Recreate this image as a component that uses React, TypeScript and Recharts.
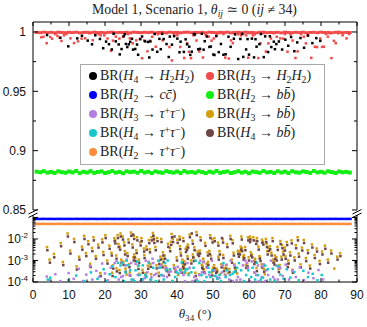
import { Scatter, ScatterChart, XAxis, YAxis } from "recharts"

// theta_34 grid used by the dense bands (degrees)
const bandTheta = [
  1, 2, 3, 4, 5, 6, 7, 8, 9, 10, 11, 12, 13, 14, 15, 16, 17, 18, 19, 20, 21, 22,
  23, 24, 25, 26, 27, 28, 29, 30, 31, 32, 33, 34, 35, 36, 37, 38, 39, 40, 41, 42, 43, 44,
  45, 46, 47, 48, 49, 50, 51, 52, 53, 54, 55, 56, 57, 58, 59, 60, 61, 62, 63, 64, 65, 66,
  67, 68, 69, 70, 71, 72, 73, 74, 75, 76, 77, 78, 79, 80, 81, 82, 83, 84, 85, 86, 87, 88,
]

// BR(H2 -> b bbar) band
const h2bbBR = [
  0.8823, 0.8818, 0.8827, 0.8815, 0.8821, 0.8812, 0.8826, 0.8819, 0.8814, 0.8824,
  0.8817, 0.8829, 0.8811, 0.8822, 0.8816, 0.8827, 0.8813, 0.882, 0.8825, 0.8812,
  0.8818, 0.8828, 0.8815, 0.8821, 0.881, 0.8826, 0.8819, 0.8823, 0.8814, 0.8829,
  0.8816, 0.8822, 0.8811, 0.8825, 0.8818, 0.8813, 0.8827, 0.882, 0.8815, 0.8824,
  0.8812, 0.8828, 0.8817, 0.8821, 0.8814, 0.8826, 0.8819, 0.8811, 0.8823, 0.8816,
  0.8829, 0.8813, 0.882, 0.8825, 0.8812, 0.8818, 0.8827, 0.8815, 0.8822, 0.881,
  0.8824, 0.8819, 0.8814, 0.8828, 0.8817, 0.8821, 0.8812, 0.8826, 0.8816, 0.8823,
  0.8811, 0.8827, 0.8818, 0.8815, 0.8825, 0.882, 0.8813, 0.8829, 0.8817, 0.8822,
  0.8814, 0.8826, 0.8819, 0.8812, 0.8824, 0.8818, 0.8821, 0.8816,
]

// BR(H2 -> c cbar) band
const h2ccBR = [
  0.0856, 0.0852, 0.0859, 0.0854, 0.0857, 0.0851, 0.0858, 0.0853, 0.0856, 0.0855,
  0.0852, 0.0859, 0.0854, 0.0857, 0.0853, 0.0858, 0.0855, 0.0851, 0.0857, 0.0854,
  0.0859, 0.0852, 0.0856, 0.0853, 0.0858, 0.0855, 0.0851, 0.0857, 0.0854, 0.0859,
  0.0852, 0.0856, 0.0853, 0.0858, 0.0855, 0.0852, 0.0857, 0.0854, 0.0859, 0.0853,
  0.0856, 0.0851, 0.0858, 0.0855, 0.0852, 0.0857, 0.0854, 0.0859, 0.0853, 0.0856,
  0.0852, 0.0858, 0.0855, 0.0851, 0.0857, 0.0854, 0.0859, 0.0853, 0.0856, 0.0852,
  0.0858, 0.0855, 0.0853, 0.0857, 0.0854, 0.0859, 0.0852, 0.0856, 0.0853, 0.0858,
  0.0855, 0.0851, 0.0857, 0.0854, 0.0859, 0.0853, 0.0856, 0.0852, 0.0858, 0.0855,
  0.0853, 0.0857, 0.0854, 0.0859, 0.0852, 0.0856, 0.0853, 0.0858,
]

// BR(H2 -> tau+ tau-) band
const h2tautauBR = [
  0.0502, 0.0499, 0.0504, 0.05, 0.0503, 0.0498, 0.0505, 0.0501, 0.0499, 0.0503,
  0.05, 0.0504, 0.0498, 0.0502, 0.0501, 0.0505, 0.0499, 0.0503, 0.05, 0.0502,
  0.0498, 0.0504, 0.0501, 0.0499, 0.0503, 0.05, 0.0505, 0.0498, 0.0502, 0.0501,
  0.0504, 0.0499, 0.0503, 0.05, 0.0502, 0.0498, 0.0505, 0.0501, 0.0499, 0.0503,
  0.05, 0.0504, 0.0498, 0.0502, 0.0501, 0.0503, 0.0499, 0.0505, 0.05, 0.0502,
  0.0498, 0.0504, 0.0501, 0.0499, 0.0503, 0.05, 0.0502, 0.0498, 0.0505, 0.0501,
  0.0499, 0.0503, 0.05, 0.0504, 0.0498, 0.0502, 0.0501, 0.0503, 0.0499, 0.0505,
  0.05, 0.0502, 0.0498, 0.0504, 0.0501, 0.0499, 0.0503, 0.05, 0.0502, 0.0498,
  0.0504, 0.0501, 0.0499, 0.0503, 0.05, 0.0502, 0.0499, 0.0501,
]

// BR(H3 -> H2 H2): the band sitting at 1
const h3h2h2Band = [
  0.9996, 0.9994, 0.9998, 0.9995, 0.9997, 0.9993, 0.9998, 0.9996, 0.9994, 0.9997,
  0.9995, 0.9998, 0.9993, 0.9996, 0.9997, 0.9994, 0.9998, 0.9995, 0.9996, 0.9993,
  0.9997, 0.9998, 0.9994, 0.9996, 0.9995, 0.9997, 0.9993, 0.9998, 0.9996, 0.9994,
  0.9997, 0.9995, 0.9998, 0.9993, 0.9996, 0.9997, 0.9994, 0.9998, 0.9995, 0.9996,
  0.9993, 0.9997, 0.9998, 0.9994, 0.9996, 0.9995, 0.9997, 0.9993, 0.9998, 0.9996,
  0.9994, 0.9997, 0.9995, 0.9998, 0.9993, 0.9996, 0.9997, 0.9994, 0.9998, 0.9995,
  0.9996, 0.9993, 0.9997, 0.9998, 0.9994, 0.9996, 0.9995, 0.9997, 0.9993, 0.9998,
  0.9996, 0.9994, 0.9997, 0.9995, 0.9998, 0.9993, 0.9996, 0.9997, 0.9994, 0.9998,
  0.9995, 0.9996, 0.9993, 0.9997, 0.9998, 0.9994, 0.9996, 0.9995,
]

// BR(H3 -> H2 H2): points below the band  [theta34, BR]
const h3h2h2Scatter = [
  [2.3,0.9955],[2.9,0.996],[3.8,0.9905],[4.8,0.9958],[5.3,0.9943],[6.2,0.9982],[6.8,0.9967],[7.4,0.9951],
  [7.9,0.9924],[8.6,0.9972],[9.3,0.9983],[10.4,0.9946],[11.4,0.9906],[12.5,0.9921],[13.5,0.9944],[14.5,0.9947],
  [15.6,0.999],[16.6,0.993],[17.2,0.9989],[18.2,0.9981],[18.8,0.9972],[19.8,0.9971],[20.7,0.9945],[21.7,0.9842],
  [22.2,0.9927],[23.0,0.9961],[24.0,0.9944],[25.0,0.9959],[25.8,0.999],[26.4,0.9982],[26.9,0.9946],[27.7,0.9904],
  [28.7,0.9929],[29.7,0.9943],[30.3,0.9779],[30.9,0.9928],[31.8,0.9837],[32.5,0.9926],[33.1,0.996],[34.1,0.9876],
  [34.7,0.9981],[35.5,0.9989],[36.0,0.9929],[37.1,0.999],[37.9,0.9873],[38.6,0.976],[39.2,0.9972],[40.1,0.9973],
  [40.9,0.9874],[42.0,0.9781],[42.8,0.9906],[43.3,0.9833],[43.9,0.9779],[44.6,0.9971],[45.4,0.9928],[46.2,0.9836],
  [47.2,0.9785],[48.0,0.9973],[48.8,0.9961],[49.6,0.9927],[50.2,0.9945],[51.0,0.9972],[51.8,0.999],[52.9,0.9983],
  [53.4,0.9784],[54.4,0.9776],[55.0,0.9929],[55.5,0.9906],[56.2,0.9982],[57.0,0.9981],[57.8,0.9971],[58.4,0.9983],
  [59.2,0.9972],[59.8,0.9783],[60.4,0.999],[61.1,0.9971],[61.6,0.9981],[62.6,0.978],[63.2,0.9905],[64.0,0.9989],
  [64.7,0.9835],[65.4,0.9904],[66.1,0.9945],[66.8,0.999],[67.7,0.996],[68.7,0.9946],[69.5,0.9944],[70.0,0.9982],
  [70.7,0.9834],[71.5,0.9981],[72.1,0.9928],[72.9,0.9781],[73.5,0.9836],[74.5,0.9982],[75.2,0.996],[75.8,0.9904],
  [76.3,0.9972],[77.3,0.9782],[78.3,0.9875],[78.9,0.9873],[79.8,0.9945],[80.3,0.9874],[80.8,0.9876],[81.4,0.9983],
  [81.9,0.9961],[82.4,0.999],[82.9,0.978],[83.6,0.9925],[84.1,0.9905],[84.8,0.9989],[86.0,0.9972],[87.1,0.9946],
  [87.8,0.9983],
]

// BR(H4 -> H2 H2)
const h4h2h2Pts = [
  [3.9,0.9974],[7.6,0.9951],[9.8,0.9879],[12.3,0.9946],[13.6,0.9968],[15.2,0.9927],[16.4,0.9896],[17.3,0.9972],
  [18.6,0.9941],[19.5,0.9863],[20.3,0.9919],[21.1,0.9897],[21.9,0.9853],[22.4,0.9985],[23.0,0.9921],[23.8,0.9895],
  [24.1,0.9811],[24.6,0.9856],[25.2,0.9964],[25.5,0.9981],[25.8,0.9899],[26.2,0.9873],[26.6,0.9896],[27.0,0.9917],
  [27.5,0.9943],[27.8,0.9851],[28.4,0.9857],[28.9,0.9894],[29.2,0.9808],[29.8,0.9939],[30.3,0.9962],[31.1,0.9921],
  [31.9,0.9916],[32.3,0.9785],[32.6,0.992],[33.2,0.9852],[33.8,0.9983],[34.5,0.9833],[35.1,0.9942],[35.5,0.9855],
  [35.9,0.9984],[36.3,0.994],[37.1,0.9898],[37.7,0.9789],[38.0,0.9961],[38.6,0.9893],[39.2,0.9965],[40.1,0.9944],
  [40.7,0.9829],[41.0,0.9918],[41.9,0.9832],[42.4,0.9938],[42.8,0.9896],[43.4,0.9876],[43.7,0.9807],[44.1,0.9834],
  [44.7,0.9982],[45.0,0.9979],[45.9,0.9854],[46.4,0.9858],[46.9,0.9985],[47.4,0.9851],[47.7,0.9922],[48.3,0.9962],
  [49.0,0.9874],[49.4,0.9877],[50.1,0.981],[50.4,0.9806],[50.9,0.9965],[51.6,0.983],[52.2,0.9899],[52.9,0.9808],
  [53.5,0.9812],[54.3,0.996],[54.9,0.9875],[55.8,0.9943],[56.1,0.998],[57.0,0.9772],[57.6,0.9941],[58.1,0.9984],
  [58.4,0.979],[59.2,0.9853],[59.6,0.994],[60.0,0.9809],[60.8,0.9944],[61.4,0.9786],[61.8,0.9939],[62.1,0.9876],
  [62.9,0.9897],[63.3,0.9983],[64.1,0.9788],[64.5,0.9963],[65.3,0.9831],[65.8,0.9964],[66.2,0.9873],[66.9,0.9918],
  [67.2,0.9855],[67.6,0.9898],[68.3,0.992],[69.2,0.9852],[70.1,0.9935],[70.9,0.9884],[71.7,0.9958],[72.6,0.9838],
  [73.4,0.9912],[74.3,0.9949],[75.3,0.9867],[76.4,0.997],[77.6,0.9906],[78.7,0.9948],[79.8,0.9925],
]

// BR(H3 -> b bbar)
const h3bbPts = [
  [3.9,4.2e-3],[4.6,1.1e-3],[5.8,2.0e-3],[7.7,6.4e-3],[8.3,8.5e-4],[9.6,1.8e-2],[10.3,2.9e-3],[11.4,1.0e-2],
  [12.1,5.3e-4],[12.8,1.5e-3],[13.6,4.4e-3],[14.2,1.4e-2],[14.7,2.2e-3],[15.3,7.9e-3],[15.9,7.0e-4],[16.4,3.8e-3],
  [16.8,1.2e-2],[17.4,1.6e-3],[18.1,5.5e-3],[18.7,2.6e-4],[19.2,9.6e-3],[19.5,2.5e-3],[20.1,1.5e-2],[20.6,1.0e-3],
  [21.2,4.9e-3],[21.8,2.3e-3],[22.0,2.7e-4],[22.2,5.9e-4],[22.6,1.1e-2],[22.8,8.6e-3],[23.1,1.7e-3],[23.2,4.3e-4],
  [23.5,1.5e-2],[23.7,5.9e-3],[24.0,3.6e-4],[24.1,4.4e-3],[24.3,1.8e-2],[24.5,1.1e-3],[24.9,1.3e-2],[25.1,8.8e-4],
  [25.3,7.0e-3],[25.5,2.7e-3],[25.7,4.2e-4],[26.0,2.2e-4],[26.2,2.2e-3],[26.5,9.5e-3],[26.7,6.8e-4],[26.9,2.8e-4],
  [27.2,2.0e-2],[27.6,5.6e-3],[27.9,1.4e-3],[28.0,1.4e-2],[28.1,1.9e-3],[28.4,1.3e-3],[28.7,3.0e-3],[28.9,1.2e-2],
  [29.2,5.6e-4],[29.4,1.1e-3],[29.5,2.4e-4],[29.8,6.9e-3],[30.1,1.1e-2],[30.4,3.7e-4],[30.8,3.6e-3],[30.9,1.8e-3],
  [31.3,2.6e-4],[31.5,4.5e-3],[31.9,5.7e-4],[32.2,8.9e-3],[32.4,3.3e-3],[32.6,7.1e-4],[32.8,2.3e-4],[32.9,1.2e-2],
  [33.3,1.9e-2],[33.5,1.4e-2],[33.6,9.0e-3],[34.0,4.2e-3],[34.3,6.0e-4],[34.5,1.1e-2],[34.9,2.7e-4],[35.0,9.4e-4],
  [35.4,1.5e-3],[35.6,1.0e-2],[35.9,6.6e-4],[36.1,2.4e-3],[36.2,1.2e-3],[36.6,1.7e-3],[36.8,5.4e-4],[37.1,4.4e-4],
  [37.3,3.5e-4],[37.5,6.0e-3],[37.7,2.9e-4],[38.0,3.8e-3],[38.3,7.4e-3],[38.5,1.7e-2],[38.8,1.0e-2],[39.1,6.1e-4],
  [39.5,4.1e-4],[39.9,1.4e-3],[40.1,9.2e-3],[40.3,2.1e-4],[40.7,1.3e-2],[40.8,4.7e-3],[41.0,2.3e-3],[41.3,3.8e-4],
  [41.5,1.1e-3],[41.6,6.9e-4],[41.7,1.1e-2],[41.9,5.8e-4],[42.1,9.1e-4],[42.3,2.6e-4],[42.4,3.5e-3],[42.7,4.3e-3],
  [42.9,1.6e-3],[43.0,5.5e-3],[43.3,2.5e-4],[43.5,1.6e-2],[43.9,1.0e-3],[44.3,8.4e-3],[44.4,1.9e-3],[44.6,1.3e-3],
  [44.8,4.1e-3],[45.1,2.7e-4],[45.4,2.1e-2],[45.7,2.6e-3],[46.0,2.2e-3],[46.1,2.3e-4],[46.3,2.9e-3],[46.5,1.2e-2],
  [46.9,6.4e-4],[47.1,5.5e-4],[47.3,1.2e-3],[47.5,3.9e-4],[47.8,6.6e-3],[48.2,7.0e-4],[48.5,2.4e-3],[48.6,8.7e-4],
  [49.0,2.8e-3],[49.2,1.5e-2],[49.4,1.7e-3],[49.7,2.8e-4],[49.8,9.6e-3],[50.0,4.6e-4],[50.3,6.0e-4],[50.4,1.1e-2],
  [50.8,3.6e-4],[51.0,4.2e-4],[51.2,3.4e-4],[51.4,6.8e-3],[51.5,1.5e-3],[51.8,2.7e-3],[52.1,2.4e-4],[52.3,6.7e-4],
  [52.7,9.4e-3],[52.8,1.8e-3],[53.0,4.4e-4],[53.3,2.2e-4],[53.6,5.9e-4],[53.9,5.8e-3],[54.2,2.6e-4],[54.5,4.0e-4],
  [54.8,1.4e-2],[55.2,1.1e-3],[55.4,8.8e-3],[55.7,2.3e-3],[56.0,6.5e-4],[56.2,4.3e-4],[56.3,3.7e-4],[56.7,2.5e-4],
  [56.9,2.8e-3],[57.1,2.1e-3],[57.4,2.6e-3],[57.7,4.4e-3],[57.9,1.3e-2],[58.0,3.7e-3],[58.4,1.5e-3],[58.6,1.8e-3],
  [58.9,4.2e-3],[59.1,6.2e-4],[59.5,7.3e-4],[59.7,1.2e-2],[59.9,1.4e-3],[60.2,9.9e-3],[60.3,1.3e-2],[60.5,2.4e-3],
  [60.8,1.9e-3],[61.2,1.2e-2],[61.4,9.5e-4],[61.5,2.7e-4],[61.7,1.2e-3],[61.9,8.2e-3],[62.1,4.5e-4],[62.2,1.1e-2],
  [62.6,4.4e-3],[62.9,1.6e-3],[63.1,1.3e-3],[63.5,6.6e-4],[63.6,9.3e-3],[63.9,7.6e-3],[64.1,4.1e-4],[64.4,2.3e-4],
  [64.7,1.0e-2],[64.9,5.9e-3],[65.1,2.7e-3],[65.4,3.9e-3],[65.8,4.6e-3],[66.2,2.3e-3],[66.5,1.1e-2],[66.7,1.1e-3],
  [67.0,8.9e-4],[67.2,1.7e-3],[67.6,1.4e-3],[67.9,4.3e-3],[68.2,4.0e-4],[68.5,6.1e-4],[68.7,8.0e-3],[69.0,1.5e-3],
  [69.2,5.2e-3],[69.5,2.6e-3],[69.9,4.0e-3],[70.1,1.6e-3],[70.5,7.2e-3],[70.7,6.8e-4],[70.9,1.0e-3],[71.4,2.4e-3],
  [71.8,8.6e-3],[72.1,3.7e-4],[72.6,1.4e-3],[73.0,5.1e-3],[73.5,1.2e-2],[73.8,2.1e-3],[74.3,6.6e-4],[74.7,4.0e-3],
  [75.2,9.0e-3],[75.8,1.3e-3],[76.3,3.0e-3],[76.9,5.8e-4],[77.5,5.6e-3],[78.2,1.8e-3],[78.8,3.6e-3],[79.6,9.5e-4],
  [80.3,2.6e-3],[81.1,4.9e-3],[81.9,1.1e-3],[82.8,2.9e-3],[83.7,4.2e-4],[84.5,1.5e-3],[85.3,2.2e-3],
]

// BR(H4 -> b bbar)
const h4bbPts = [
  [4.0,3.0e-3],[4.7,7.9e-4],[5.9,1.4e-3],[7.8,4.6e-3],[8.4,6.1e-4],[9.7,1.3e-2],[10.4,2.1e-3],[11.5,7.2e-3],
  [12.2,3.8e-4],[12.9,1.1e-3],[13.7,3.2e-3],[14.3,1.0e-2],[14.8,1.6e-3],[15.4,5.7e-3],[16.0,5.0e-4],[16.5,2.7e-3],
  [16.9,8.6e-3],[17.5,1.2e-3],[18.2,4.0e-3],[18.8,1.9e-4],[19.3,6.9e-3],[19.6,1.8e-3],[20.2,1.1e-2],[20.7,7.2e-4],
  [21.3,3.5e-3],[21.9,1.7e-3],[22.1,1.9e-4],[22.3,4.2e-4],[22.7,7.9e-3],[22.9,6.2e-3],[23.2,1.2e-3],[23.3,3.1e-4],
  [23.6,1.1e-2],[23.8,4.2e-3],[24.1,2.6e-4],[24.2,3.2e-3],[24.4,1.3e-2],[24.6,7.9e-4],[25.0,9.4e-3],[25.2,6.3e-4],
  [25.4,5.0e-3],[25.6,1.9e-3],[25.8,3.0e-4],[26.3,1.6e-3],[26.6,6.8e-3],[26.8,4.9e-4],[27.0,2.0e-4],[27.3,1.4e-2],
  [27.7,4.0e-3],[27.8,1.6e-2],[28.0,1.0e-3],[28.1,1.0e-2],[28.2,1.4e-3],[28.5,9.4e-4],[28.8,2.2e-3],[29.0,8.6e-3],
  [29.3,4.0e-4],[29.5,7.9e-4],[29.9,5.0e-3],[30.2,7.9e-3],[30.5,2.7e-4],[30.9,2.6e-3],[31.0,1.3e-3],[31.4,1.9e-4],
  [31.6,3.2e-3],[32.0,4.1e-4],[32.3,6.4e-3],[32.5,2.4e-3],[32.7,5.1e-4],[33.0,8.6e-3],[33.4,1.4e-2],[33.6,1.0e-2],
  [33.7,6.5e-3],[34.1,3.0e-3],[34.4,4.3e-4],[34.6,7.9e-3],[35.0,1.9e-4],[35.1,6.8e-4],[35.5,1.1e-3],[35.7,7.2e-3],
  [36.0,4.8e-4],[36.2,1.7e-3],[36.3,8.6e-4],[36.7,1.2e-3],[36.9,3.9e-4],[37.2,3.2e-4],[37.6,4.3e-3],[37.8,2.1e-4],
  [38.1,2.7e-3],[38.4,5.3e-3],[38.6,1.2e-2],[38.9,7.2e-3],[39.2,4.4e-4],[39.3,1.3e-2],[39.6,3.0e-4],[40.0,1.0e-3],
  [40.2,6.6e-3],[40.8,9.4e-3],[40.9,3.4e-3],[41.1,1.7e-3],[41.4,2.7e-4],[41.6,7.9e-4],[41.7,5.0e-4],[41.8,7.9e-3],
  [42.0,4.2e-4],[42.2,6.6e-4],[42.5,2.5e-3],[42.8,3.1e-3],[43.0,1.2e-3],[43.1,4.0e-3],[43.6,1.2e-2],[44.0,7.2e-4],
  [44.1,1.8e-2],[44.4,6.0e-3],[44.5,1.4e-3],[44.7,9.4e-4],[44.9,3.0e-3],[45.2,1.9e-4],[45.5,1.5e-2],[45.8,1.9e-3],
  [46.1,1.6e-3],[46.4,2.1e-3],[46.6,8.6e-3],[47.0,4.6e-4],[47.2,4.0e-4],[47.4,8.6e-4],[47.6,2.8e-4],[47.9,4.8e-3],
  [48.3,5.0e-4],[48.6,1.7e-3],[48.7,6.3e-4],[49.1,2.0e-3],[49.3,1.1e-2],[49.5,1.2e-3],[49.8,2.0e-4],[49.9,6.9e-3],
  [50.1,3.3e-4],[50.4,4.3e-4],[50.5,7.9e-3],[50.9,2.6e-4],[51.1,3.0e-4],[51.5,4.9e-3],[51.6,1.1e-3],[51.9,1.9e-3],
  [52.4,4.8e-4],[52.5,1.1e-2],[52.8,6.8e-3],[52.9,1.3e-3],[53.1,3.2e-4],[53.7,4.2e-4],[54.0,4.2e-3],[54.6,2.9e-4],
  [54.9,1.0e-2],[55.3,7.9e-4],[55.5,6.3e-3],[55.8,1.7e-3],[56.1,4.7e-4],[56.3,3.1e-4],[57.0,2.0e-3],[57.2,1.5e-3],
  [57.5,1.9e-3],[57.8,3.2e-3],[58.0,9.4e-3],[58.1,2.7e-3],[58.5,1.1e-3],[58.7,1.3e-3],[59.0,3.0e-3],[59.2,4.5e-4],
  [59.6,5.3e-4],[59.8,8.6e-3],[60.0,1.0e-3],[60.3,7.1e-3],[60.4,9.4e-3],[60.6,1.7e-3],[60.9,1.4e-3],[61.3,8.6e-3],
  [61.5,6.8e-4],[61.8,8.6e-4],[62.0,5.9e-3],[62.2,3.2e-4],[62.3,7.9e-3],[62.7,3.2e-3],[63.0,1.2e-3],[63.2,9.4e-4],
  [63.6,4.8e-4],[63.7,6.7e-3],[64.0,5.5e-3],[64.2,3.0e-4],[64.8,7.2e-3],[65.0,4.2e-3],[65.2,1.9e-3],[65.5,2.8e-3],
  [65.9,3.3e-3],[66.3,1.7e-3],[66.6,7.9e-3],[66.8,7.9e-4],[67.1,6.4e-4],[67.3,1.2e-3],[67.7,1.0e-3],[68.0,3.1e-3],
  [68.3,2.9e-4],[68.6,4.4e-4],[68.8,5.8e-3],[69.1,1.1e-3],[69.3,3.7e-3],[69.6,1.9e-3],[70.0,2.9e-3],[70.2,1.2e-3],
  [70.6,5.2e-3],[70.8,4.9e-4],[71.0,7.2e-4],[71.5,1.7e-3],[71.9,6.2e-3],[72.2,2.7e-4],[72.7,1.0e-3],[73.1,3.7e-3],
  [73.6,8.6e-3],[73.9,1.5e-3],[74.4,4.8e-4],[74.8,2.9e-3],[75.3,6.5e-3],[75.9,9.4e-4],[76.4,2.2e-3],[77.0,4.2e-4],
  [77.6,4.0e-3],[78.3,1.3e-3],[78.9,2.6e-3],[79.7,6.8e-4],[80.4,1.9e-3],[81.2,3.5e-3],[82.0,7.9e-4],[82.9,2.1e-3],
  [84.6,1.1e-3],[85.4,1.6e-3],
]

// BR(H3 -> tau+ tau-)
const h3tautauPts = [
  [3.8,1.8e-4],[4.5,1.2e-4],[6.2,2.3e-4],[7.6,1.1e-4],[9.9,2.6e-4],[11.3,1.4e-4],[12.7,4.1e-4],[13.9,1.1e-4],
  [14.8,2.2e-4],[15.8,5.6e-4],[16.5,1.3e-4],[17.6,3.3e-4],[18.4,1.7e-4],[19.2,7.2e-4],[20.0,2.5e-4],[20.8,1.2e-4],
  [21.6,4.6e-4],[22.7,7.6e-4],[23.2,9.8e-4],[23.8,1.3e-4],[24.5,1.7e-4],[25.0,1.9e-4],[25.7,5.9e-4],[26.0,1.1e-3],
  [26.8,2.1e-4],[27.3,7.6e-4],[27.9,1.3e-4],[28.5,6.9e-4],[29.1,2.1e-4],[29.8,1.1e-4],[30.5,1.3e-4],[31.0,1.5e-4],
  [31.3,9.8e-4],[31.8,2.8e-4],[32.1,8.7e-4],[32.6,1.3e-4],[32.9,1.7e-4],[33.2,1.2e-3],[33.4,7.6e-4],[33.7,2.1e-4],
  [34.2,2.4e-4],[34.9,4.6e-4],[35.6,5.9e-4],[35.9,2.1e-4],[36.3,1.9e-4],[36.9,4.6e-4],[37.2,1.7e-4],[37.7,2.8e-4],
  [38.3,3.1e-4],[38.7,1.1e-4],[39.3,4.6e-4],[39.7,3.5e-4],[40.2,5.1e-4],[40.9,4.0e-4],[41.1,2.8e-4],[41.8,2.1e-4],
  [42.2,1.1e-4],[42.9,7.6e-4],[43.5,4.6e-4],[44.3,1.1e-4],[44.8,1.7e-4],[45.5,1.3e-4],[46.2,2.1e-4],[46.5,9.8e-4],
  [46.9,2.8e-4],[47.4,8.5e-4],[47.8,2.5e-4],[48.4,4.6e-4],[49.0,2.1e-4],[49.7,9.8e-4],[50.3,3.5e-4],[51.1,1.7e-4],
  [51.8,1.5e-4],[52.5,2.8e-4],[52.7,5.9e-4],[53.5,2.1e-4],[53.8,6.4e-4],[54.5,1.3e-4],[54.9,9.8e-4],[55.5,1.1e-4],
  [55.9,5.9e-4],[56.6,1.2e-4],[56.9,1.7e-4],[57.6,1.3e-4],[58.3,5.9e-4],[59.0,9.8e-4],[59.4,7.6e-4],[59.7,4.6e-4],
  [60.2,1.1e-4],[60.8,8.9e-4],[61.5,2.8e-4],[62.0,2.1e-4],[62.5,5.9e-4],[62.7,1.1e-4],[63.5,1.7e-4],[63.8,5.3e-4],
  [64.1,6.6e-4],[64.5,1.1e-4],[64.8,3.5e-4],[65.3,2.1e-4],[66.1,9.8e-4],[66.7,1.7e-4],[67.1,1.3e-4],[67.6,5.9e-4],
  [68.0,1.3e-4],[68.3,4.9e-4],[68.6,4.6e-4],[69.4,1.9e-4],[70.2,6.4e-4],[71.1,1.3e-4],[72.0,3.4e-4],[73.0,1.7e-4],
  [74.1,4.8e-4],[75.3,1.2e-4],[76.5,2.7e-4],[77.9,1.5e-4],[79.3,3.6e-4],[80.6,1.3e-4],
]

// BR(H4 -> tau+ tau-)
const h4tautauPts = [
  [4.1,1.3e-4],[4.8,1.6e-4],[9.8,1.2e-4],[12.0,2.0e-4],[14.2,1.1e-4],[16.1,2.8e-4],[17.9,1.4e-4],[19.6,3.9e-4],
  [20.4,1.1e-4],[21.3,2.3e-4],[22.0,5.4e-4],[22.9,1.7e-4],[23.6,7.8e-4],[24.3,5.9e-4],[24.8,7.6e-4],[25.2,1.1e-4],
  [25.7,2.8e-4],[26.0,9.8e-4],[26.3,6.1e-4],[27.0,3.5e-4],[27.4,1.3e-4],[28.2,1.1e-4],[28.5,3.5e-4],[29.0,8.8e-4],
  [29.3,5.9e-4],[29.6,2.1e-4],[30.2,1.3e-4],[30.5,5.9e-4],[31.2,2.1e-4],[31.5,1.7e-4],[32.2,7.6e-4],[32.8,1.3e-4],
  [33.4,4.6e-4],[34.1,1.1e-4],[34.8,9.8e-4],[35.2,4.6e-4],[35.6,2.1e-4],[36.3,1.3e-4],[36.7,7.6e-4],[37.0,3.5e-4],
  [37.4,1.0e-3],[38.0,3.9e-4],[38.8,1.1e-4],[39.5,1.7e-4],[39.9,2.8e-4],[40.4,2.5e-4],[40.8,3.5e-4],[41.3,8.1e-4],
  [42.1,2.8e-4],[42.4,3.5e-4],[42.9,4.0e-4],[43.2,2.1e-4],[44.0,2.8e-4],[44.6,4.6e-4],[45.2,9.8e-4],[45.7,1.1e-4],
  [46.2,7.6e-4],[46.8,2.1e-4],[47.6,1.1e-4],[48.2,1.7e-4],[48.7,4.6e-4],[49.0,2.8e-4],[49.3,1.7e-4],[49.8,3.5e-4],
  [50.6,1.9e-4],[51.2,1.4e-4],[51.8,2.1e-4],[52.2,1.1e-4],[52.9,7.6e-4],[53.5,1.7e-4],[53.9,3.5e-4],[54.7,2.1e-4],
  [55.4,2.4e-4],[55.8,2.8e-4],[56.2,3.2e-4],[56.7,4.6e-4],[57.2,7.6e-4],[57.8,3.5e-4],[58.6,1.1e-4],[59.2,2.1e-4],
  [59.8,3.5e-4],[60.6,1.7e-4],[61.0,4.6e-4],[61.7,1.3e-4],[62.2,7.9e-4],[62.5,2.1e-4],[63.3,1.3e-4],[63.9,1.6e-4],
  [64.5,5.8e-4],[65.2,3.9e-4],[65.9,1.3e-4],[66.6,4.1e-4],[67.2,1.1e-4],[67.9,5.5e-4],[68.7,2.2e-4],[69.6,1.4e-4],
  [70.5,3.9e-4],[71.5,1.6e-4],[72.6,2.9e-4],[73.8,1.2e-4],[75.1,3.3e-4],[76.4,1.7e-4],[77.7,2.4e-4],[79.0,1.2e-4],
  [80.2,2.1e-4],
]

const xTicks = [0, 5, 10, 15, 20, 25, 30, 35, 40, 45, 50, 55, 60, 65, 70, 75, 80, 85, 90]
const linTicks = [0.85, 0.875, 0.9, 0.925, 0.95, 0.975, 1]
const logTicks = [
  1e-4, 2e-4, 3e-4, 4e-4, 5e-4, 6e-4, 7e-4, 8e-4, 9e-4,
  1e-3, 2e-3, 3e-3, 4e-3, 5e-3, 6e-3, 7e-3, 8e-3, 9e-3,
  1e-2, 2e-2, 3e-2, 4e-2, 5e-2, 6e-2, 7e-2, 8e-2, 9e-2, 1e-1,
]

const C = {
  h4h2h2: "#000000",
  h3h2h2: "#f24a4a",
  h2cc: "#0000ff",
  h2bb: "#11ee11",
  h3tt: "#b57ee0",
  h3bb: "#d29e0c",
  h4tt: "#18c8c8",
  h4bb: "#6e4646",
  h2tt: "#ff8c3a",
}

// plot frame in page pixels
const L = 33
const R = 357
const TOP_Y0 = 22
const BOT_Y1 = 282

const pairs = (pts: number[][]) => pts.map(([x, y]) => ({ x, y }))
const band = (vals: number[]) => bandTheta.map((x, i) => ({ x, y: vals[i] }))

const box = (color: string, w: number, h: number) => (p: any) =>
  <rect x={p.cx - w / 2} y={p.cy - h / 2} width={w} height={h} fill={color} />

const tickFont = { fontFamily: '"Liberation Sans", Arial, sans-serif', fontSize: 12, fill: "#111" }

function LinTick(p: any) {
  const v = p.payload.value
  const major = Math.round(v * 1000) % 50 === 0
  const len = major ? 5 : 3
  return (
    <g>
      <line x1={L} x2={L + len} y1={p.y} y2={p.y} stroke="#000" />
      <line x1={R - len} x2={R} y1={p.y} y2={p.y} stroke="#000" />
      {major && (
        <text x={26} y={p.y} dy="0.36em" textAnchor="end" {...tickFont}>
          {String(v)}
        </text>
      )}
    </g>
  )
}

function LogTick(p: any) {
  const v = p.payload.value
  const e = Math.log10(v)
  const major = Math.abs(e - Math.round(e)) < 1e-6
  const len = major ? 5 : 2.5
  return (
    <g>
      <line x1={L} x2={L + len} y1={p.y} y2={p.y} stroke="#000" />
      <line x1={R - len} x2={R} y1={p.y} y2={p.y} stroke="#000" />
      {major && Math.round(e) < -1 && (
        <text x={28} y={p.y} dy="0.36em" textAnchor="end" {...tickFont}>
          <tspan>10</tspan>
          <tspan dy={-5} fontSize={8}>{String(Math.round(e))}</tspan>
        </text>
      )}
    </g>
  )
}

function TopXTick(p: any) {
  const v = p.payload.value
  const len = v % 10 === 0 ? 4 : 2.5
  return <line x1={p.x} x2={p.x} y1={TOP_Y0} y2={TOP_Y0 + len} stroke="#000" />
}

function BotXTick(p: any) {
  const v = p.payload.value
  const major = v % 10 === 0
  const len = major ? 4 : 2.5
  return (
    <g>
      <line x1={p.x} x2={p.x} y1={BOT_Y1} y2={BOT_Y1 - len} stroke="#000" />
      {major && (
        <text x={p.x} y={295} dy="0.36em" textAnchor="middle" {...tickFont}>
          {String(v)}
        </text>
      )}
    </g>
  )
}

const serif = '"Liberation Serif", "DejaVu Serif", serif'
const subS = { fontSize: "70%", verticalAlign: "-0.3em", lineHeight: 0 }
const supS = { fontSize: "70%", verticalAlign: "0.45em", lineHeight: 0 }

const H = (n: string) => (
  <>
    <i>H</i>
    <span style={subS}>{n}</span>
  </>
)
const TT = (
  <>
    <i>τ</i>
    <span style={supS}>+</span>
    <i>τ</i>
    <span style={supS}>−</span>
  </>
)

const legendItems = [
  { color: C.h4h2h2, col: 0, row: 0, label: <>BR({H("4")} → {H("2")}{H("2")})</> },
  { color: C.h3h2h2, col: 1, row: 0, label: <>BR({H("3")} → {H("2")}{H("2")})</> },
  { color: C.h2cc, col: 0, row: 1, label: <>BR({H("2")} → <i>c</i><i>c̄</i>)</> },
  { color: C.h2bb, col: 1, row: 1, label: <>BR({H("2")} → <i>b</i><i>b̄</i>)</> },
  { color: C.h3tt, col: 0, row: 2, label: <>BR({H("3")} → {TT})</> },
  { color: C.h3bb, col: 1, row: 2, label: <>BR({H("3")} → <i>b</i><i>b̄</i>)</> },
  { color: C.h4tt, col: 0, row: 3, label: <>BR({H("4")} → {TT})</> },
  { color: C.h4bb, col: 1, row: 3, label: <>BR({H("4")} → <i>b</i><i>b̄</i>)</> },
  { color: C.h2tt, col: 0, row: 4, label: <>BR({H("2")} → {TT})</> },
]

export default function App() {
  const abs = { position: "absolute" as const, left: 0, top: 0 }
  const dot = 2.5
  return (
    <div style={{ ...abs, width: 367, height: 327, background: "#fff", overflow: "hidden" }}>
      <div style={{ ...abs, width: 367, textAlign: "center", top: 1, paddingLeft: 22, boxSizing: "border-box", fontFamily: serif, fontSize: 13.8, color: "#222" }}>
        Model 1, Scenario 1, <i>θ</i>
        <span style={subS}><i>ij</i></span> ≃ 0 (<i>ij</i> ≠ 34)
      </div>

      {/* upper, linear panel */}
      <div style={abs}>
        <ScatterChart width={367} height={327} margin={{ top: 21, right: 9, bottom: 117, left: 32 }}>
          <XAxis type="number" dataKey="x" domain={[0, 90]} orientation="top" height={1} ticks={xTicks} interval={0}
            tickSize={0} tickLine={false} axisLine={{ stroke: "#000" }} tick={(p: any) => <TopXTick {...p} />} />
          <YAxis yAxisId="l" type="number" dataKey="y" domain={[0.85, 1.0084]} allowDataOverflow width={1}
            ticks={linTicks} interval={0} tickSize={0} tickLine={false} axisLine={{ stroke: "#000" }} tick={(p: any) => <LinTick {...p} />} />
          <YAxis yAxisId="r" orientation="right" type="number" domain={[0.85, 1.0084]} allowDataOverflow width={1}
            tick={false} tickLine={false} axisLine={{ stroke: "#000" }} />
          <Scatter yAxisId="l" data={band(h2bbBR)} shape={box(C.h2bb, 4, 4)} isAnimationActive={false} />
          <Scatter yAxisId="l" data={band(h3h2h2Band)} shape={box(C.h3h2h2, 4, 3)} isAnimationActive={false} />
          <Scatter yAxisId="l" data={pairs(h3h2h2Scatter)} shape={box(C.h3h2h2, dot, dot)} isAnimationActive={false} />
          <Scatter yAxisId="l" data={pairs(h4h2h2Pts)} shape={box(C.h4h2h2, dot, dot)} isAnimationActive={false} />
        </ScatterChart>
      </div>

      {/* lower, log panel */}
      <div style={abs}>
        <ScatterChart width={367} height={327} margin={{ top: 215, right: 9, bottom: 44, left: 32 }}>
          <XAxis type="number" dataKey="x" domain={[0, 90]} height={1} ticks={xTicks} interval={0}
            tickSize={0} tickLine={false} axisLine={{ stroke: "#000" }} tick={(p: any) => <BotXTick {...p} />} />
          <YAxis yAxisId="l" type="number" dataKey="y" scale="log" domain={[1e-4, 0.13]} allowDataOverflow width={1}
            ticks={logTicks} interval={0} tickSize={0} tickLine={false} axisLine={{ stroke: "#000" }} tick={(p: any) => <LogTick {...p} />} />
          <YAxis yAxisId="r" orientation="right" type="number" scale="log" domain={[1e-4, 0.13]} allowDataOverflow width={1}
            tick={false} tickLine={false} axisLine={{ stroke: "#000" }} />
          <Scatter yAxisId="l" data={band(h2ccBR)} shape={box(C.h2cc, 4, 2.5)} isAnimationActive={false} />
          <Scatter yAxisId="l" data={band(h2tautauBR)} shape={box(C.h2tt, 4, 2.5)} isAnimationActive={false} />
          <Scatter yAxisId="l" data={pairs(h3bbPts)} shape={box(C.h3bb, dot, dot)} isAnimationActive={false} />
          <Scatter yAxisId="l" data={pairs(h4bbPts)} shape={box(C.h4bb, dot, dot)} isAnimationActive={false} />
          <Scatter yAxisId="l" data={pairs(h3tautauPts)} shape={box(C.h3tt, dot, dot)} isAnimationActive={false} />
          <Scatter yAxisId="l" data={pairs(h4tautauPts)} shape={box(C.h4tt, dot, dot)} isAnimationActive={false} />
        </ScatterChart>
      </div>

      {/* axis break marks */}
      <svg style={{ ...abs, pointerEvents: "none" }} width={367} height={327}>
        {[L, R].map((x) => (
          <g key={x} stroke="#000" strokeWidth={1}>
            <line x1={x - 4.5} y1={214} x2={x + 4.5} y2={209.5} />
            <line x1={x - 4.5} y1={217.5} x2={x + 4.5} y2={213} />
          </g>
        ))}
      </svg>

      {/* legend */}
      <div style={{ position: "absolute", left: 80, top: 64, width: 245, height: 101, boxSizing: "border-box",
        border: "1px solid #a8a8a8", background: "#fff", fontFamily: serif, fontSize: 14, color: "#222" }}>
        {legendItems.map((it, i) => (
          <div key={i} style={{ position: "absolute", left: it.col === 0 ? 8 : 125, top: 1 + it.row * 19,
            height: 19, display: "flex", alignItems: "center", whiteSpace: "nowrap" }}>
            <span style={{ width: 8, height: 8, borderRadius: 4, background: it.color, marginRight: 3, flex: "none" }} />
            <span>{it.label}</span>
          </div>
        ))}
      </div>

      <div style={{ position: "absolute", left: 160, width: 70, top: 306, textAlign: "center", fontFamily: serif, fontSize: 13, color: "#222" }}>
        <i>θ</i>
        <span style={subS}>34</span> (°)
      </div>
    </div>
  )
}
